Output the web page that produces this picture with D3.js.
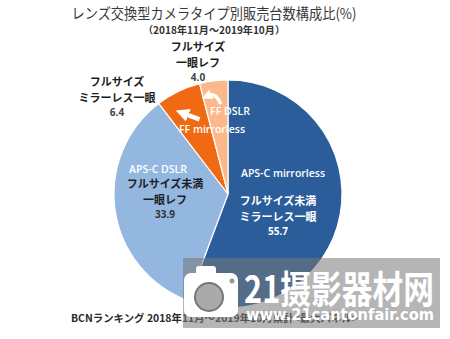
<!DOCTYPE html>
<html>
<head>
<meta charset="utf-8">
<script src="https://cdn.jsdelivr.net/npm/d3@7"></script>
<style>
  body { margin: 0; background: #fff; }
  svg { display: block; }
  text { font-family: "Noto Sans CJK JP", "Noto Sans", sans-serif; }
  .en { font-family: "Open Sans", "Noto Sans", sans-serif; }
</style>
</head>
<body>
<svg id="chart" width="450" height="339"></svg>
<script>
/// Chart data
var categories = ["APS-C mirrorless", "APS-C DSLR", "FF mirrorless", "FF DSLR"];
var jpNames = [["フルサイズ未満", "ミラーレス一眼"], ["フルサイズ未満", "一眼レフ"],
               ["フルサイズ", "ミラーレス一眼"], ["フルサイズ", "一眼レフ"]];
var shares = [55.7, 33.9, 6.4, 4.0];
var colors = ["#2b5d9b", "#93b7df", "#ef6a12", "#fbb98b"];

var title = "レンズ交換型カメラタイプ別販売台数構成比(%)";
var subtitle = "（2018年11月～2019年10月）";
var footer = "BCNランキング 2018年11月～2019年10月累計<最大パネル>";

var W = 450, H = 339;
var cx = 228, cy = 194, R = 114;

var svg = d3.select("#chart");

/// Titles
svg.append("text").attr("x", 214).attr("y", 19)
    .attr("text-anchor", "middle").attr("font-size", 14.5).attr("fill", "#3a3a3a")
    .attr("textLength", 285).attr("lengthAdjust", "spacingAndGlyphs")
    .text(title);
svg.append("text").attr("x", 214).attr("y", 34)
    .attr("text-anchor", "middle").attr("font-size", 10).attr("font-weight", "bold")
    .attr("fill", "#333").attr("textLength", 142).attr("lengthAdjust", "spacingAndGlyphs")
    .text(subtitle);

/// Pie: clockwise from 12 o'clock
var pie = d3.pie().sort(null).value(d => d)(shares);
var arc = d3.arc().innerRadius(0).outerRadius(R);

var g = svg.append("g").attr("transform", "translate(" + cx + "," + cy + ")");

g.selectAll("path.slice")
    .data(pie)
    .enter()
    .append("path")
    .attr("class", "slice")
    .attr("d", arc)
    .attr("fill", (d, i) => colors[i])
    .attr("stroke", "#fff")
    .attr("stroke-width", 1.2);

/// Polar helper: point at radius fraction f and angle a (radians, clockwise from top)
function polar(f, a) { return [Math.sin(a) * R * f, -Math.cos(a) * R * f]; }
function mid(d) { return (d.startAngle + d.endAngle) / 2; }
var deg = Math.PI / 180;

/// White arrows pointing from the small slices to their outside labels
svg.append("defs").append("marker")
    .attr("id", "head").attr("viewBox", "0 0 10 10")
    .attr("refX", 3).attr("refY", 5)
    .attr("markerWidth", 3).attr("markerHeight", 3)
    .attr("orient", "auto")
    .append("path").attr("d", "M0,0 L10,5 L0,10 z").attr("fill", "#fff");

// FF DSLR: curved hook
var dslr = pie[3];
var t1 = polar(0.79, mid(dslr) + 2.5 * deg),
    c1 = polar(0.90, mid(dslr) + 0.5 * deg),
    h1 = polar(0.88, mid(dslr) - 4 * deg);
g.append("path")
    .attr("d", "M" + t1 + " Q" + c1 + " " + h1)
    .attr("fill", "none").attr("stroke", "#fff").attr("stroke-width", 3.5)
    .attr("marker-end", "url(#head)");

// FF mirrorless: straight arrow
var ffm = pie[2];
var t2 = polar(0.70, mid(ffm) + 5 * deg),
    h2 = polar(0.80, mid(ffm) - 2.5 * deg);
g.append("path")
    .attr("d", "M" + t2 + " L" + h2)
    .attr("fill", "none").attr("stroke", "#fff").attr("stroke-width", 4.5)
    .attr("marker-end", "url(#head)");

/// Labels: english x,y and japanese x, first line y, offsets from the pie centre
var labelPos = [
    { en: [55, -17], jp: [50, 11], jpColor: "#fff", numColor: "#fff" },
    { en: [-70, -21], jp: [-63, -6], jpColor: "#1e1e1e", numColor: "#333" },
    { en: [-16, -61], jp: [-111, -108], jpColor: "#1e1e1e", numColor: "#444" },
    { en: [2, -79], jp: [-30, -143], jpColor: "#1e1e1e", numColor: "#444" }
];

categories.forEach(function(c, i) {
    var p = labelPos[i];
    g.append("text").attr("class", "en")
        .attr("x", p.en[0]).attr("y", p.en[1])
        .attr("text-anchor", "middle").attr("font-size", 10.5)
        .attr("fill", "#fff").attr("font-weight", 600)
        .text(c);
    var t = g.append("text")
        .attr("text-anchor", "middle").attr("font-size", 11).attr("font-weight", "bold")
        .attr("fill", p.jpColor);
    jpNames[i].forEach(function(line, k) {
        t.append("tspan").attr("x", p.jp[0]).attr("y", p.jp[1] + k * 16).text(line);
    });
    g.append("text").attr("class", "en")
        .attr("x", p.jp[0]).attr("y", p.jp[1] + 30)
        .attr("text-anchor", "middle").attr("font-size", 10).attr("font-weight", "bold")
        .attr("fill", p.numColor)
        .text(shares[i].toFixed(1));
});

/// Footer
svg.append("text").attr("x", 71).attr("y", 322)
    .attr("font-size", 10.5).attr("font-weight", "bold").attr("fill", "#2a2a2a")
    .attr("textLength", 287).attr("lengthAdjust", "spacingAndGlyphs")
    .text(footer);

/// Watermark overlay seen on the picture
var wm = svg.append("g");
wm.append("rect").attr("x", 183).attr("y", 258).attr("width", 257).attr("height", 70)
    .attr("fill", "rgb(120,120,120)").attr("opacity", 0.55);
wm.append("rect").attr("x", 184).attr("y", 273).attr("width", 54).attr("height", 44)
    .attr("rx", 7).attr("fill", "#fff");
wm.append("rect").attr("x", 196).attr("y", 266).attr("width", 20).attr("height", 9)
    .attr("rx", 3).attr("fill", "#fff");
wm.append("circle").attr("cx", 209).attr("cy", 297).attr("r", 14)
    .attr("fill", "#aaa").attr("stroke", "#777").attr("stroke-width", 2);
wm.append("circle").attr("cx", 232).attr("cy", 281).attr("r", 2.5).attr("fill", "#999");
wm.append("text").attr("x", 244).attr("y", 303)
    .attr("font-size", 38).attr("font-weight", "bold").attr("fill", "#fff")
    .attr("textLength", 190).attr("lengthAdjust", "spacingAndGlyphs")
    .style("font-family", "'Noto Sans CJK SC', sans-serif")
    .text("21摄影器材网");
wm.append("text").attr("x", 246).attr("y", 320)
    .attr("font-size", 16).attr("font-weight", "bold").attr("fill", "#fff")
    .attr("textLength", 188).attr("lengthAdjust", "spacingAndGlyphs")
    .style("font-family", "'DejaVu Sans', sans-serif")
    .text("www.21cantonfair.com");
</script>
</body>
</html>
